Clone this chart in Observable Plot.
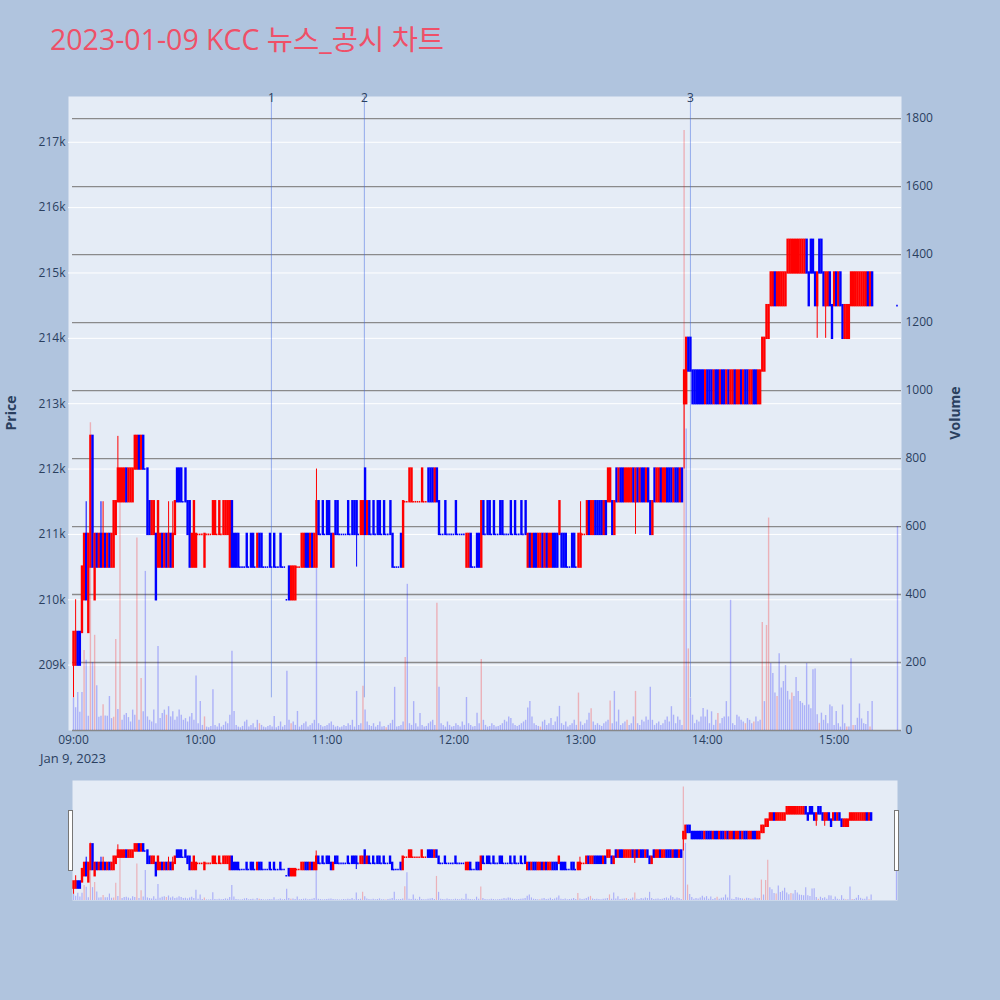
<!DOCTYPE html>
<html>
<head>
<meta charset="utf-8">
<script src="https://cdn.jsdelivr.net/npm/d3@7"></script>
<script src="https://cdn.jsdelivr.net/npm/@observablehq/plot@0.6"></script>
<style>
  body { margin: 0; background: #b0c4de; }
  #chart { position: relative; width: 1000px; height: 1000px; overflow: hidden;
           font-family: "Open Sans", "Noto Sans CJK KR", sans-serif; color: #2a3f5f; }
  #chart svg { position: absolute; left: 0; top: 0; }
  .txt { position: absolute; white-space: nowrap; }
  #title { left: 50px; top: 25px; font-size: 28.5px; line-height: 28px; color: #ef5068; }
  .handle { position: absolute; width: 3px; height: 59px; background: #fff; border: 1px solid #777; }
</style>
</head>
<body>
<div id="chart">
  <div class="txt" id="title">2023-01-09 KCC 뉴스_공시 차트</div>
</div>
<script>
// minute candles, 09:00 = minute 0, prices in thousand won
const open = [
  209, 209, 209.5, 209.5, 209.5, 210, 211, 209.5, 210.5, 212.5,
  210, 211, 210.5, 211, 210.5, 211, 210.5, 211, 210.5, 210.5,
  211, 211.5, 211.5, 211.5, 211.5, 212, 211.5, 211.5, 211.5, 212,
  212, 212.5, 212, 212.5, 212, 212, 211.5, 211, 211, 211,
  210.5, 210.5, 211, 210.5, 211, 210.5, 211, 210.5, 211, 212,
  212, 212, 211.5, 212, 211.5, 211.5, 210.5, 210.5, 210.5, 211,
  211, 211, 210.5, 211, 211, 211, 211, 211, 211, 211,
  211, 211, 211, 211, 210.5, 211.5, 211, 211, 211, 210.5,
  210.5, 210.5, 211, 210.5, 211, 211, 210.5, 210.5, 211, 211,
  210.5, 210.5, 210.5, 211, 210.5, 211, 210.5, 210.5, 211, 210.5,
  210.5, 210, 210.5, 210, 210, 210, 210.5, 210.5, 210.5, 210.5,
  211, 211, 210.5, 211, 210.5, 210.5, 211.5, 211, 211.5, 211,
  211.5, 211.5, 211, 210.5, 211.5, 211.5, 211, 211, 211, 211,
  211.5, 211, 211.5, 211.5, 211.5, 211, 211, 211, 212, 211,
  211.5, 211, 211.5, 211, 211.5, 211.5, 211, 211.5, 211, 211,
  211.5, 211, 210.5, 210.5, 210.5, 211, 210.5, 211.5, 211.5, 211.5,
  211.5, 211.5, 211.5, 211.5, 211.5, 211.5, 211.5, 211.5, 212, 212,
  212, 211.5, 212, 211.5, 211, 211, 211.5, 211, 211, 211,
  211, 211.5, 211, 211, 211, 211, 210.5, 210.5, 211, 210.5,
  210.5, 211, 211, 210.5, 211.5, 211, 211.5, 211.5, 211, 211.5,
  211, 211, 211.5, 211.5, 211, 211, 211, 211.5, 211, 211.5,
  211, 211, 211.5, 211, 211.5, 210.5, 211, 210.5, 211, 211,
  210.5, 210.5, 211, 210.5, 211, 210.5, 210.5, 211, 211, 211,
  211, 211, 211, 211, 210.5, 210.5, 211, 211, 210.5, 210.5,
  210.5, 211, 211, 211, 211.5, 211, 211, 211.5, 211.5, 211.5,
  211.5, 211, 211.5, 211.5, 211.5, 211.5, 211, 212, 211.5, 212,
  212, 211.5, 211.5, 211.5, 211.5, 212, 211.5, 212, 211.5, 212,
  212, 211.5, 212, 211.5, 211, 212, 211.5, 211.5, 212, 211.5,
  211.5, 212, 212, 212, 211.5, 212, 212, 211.5, 212, 213,
  213, 214, 214, 213.5, 213.5, 213.5, 213.5, 213.5, 213.5, 213,
  213.5, 213.5, 213.5, 213, 213.5, 213.5, 213, 213.5, 213.5, 213,
  213.5, 213, 213, 213.5, 213, 213, 213.5, 213, 213.5, 213.5,
  213, 213, 213.5, 213.5, 213, 213, 213.5, 213.5, 214, 214,
  214.5, 214.5, 215, 214.5, 214.5, 214.5, 214.5, 214.5, 215, 215,
  215, 215, 215, 215, 215, 215, 215, 215.5, 215, 215.5,
  215.5, 215, 214.5, 215.5, 215.5, 215, 214.5, 214.5, 215, 214.5,
  214.5, 215, 214.5, 215, 214.5, 214, 214, 214, 214.5, 214.5,
  214.5, 214.5, 214.5, 214.5, 214.5, 214.5, 215, 214.5, 215
];
const close = [
  209.5, 209.5, 209, 209, 210.5, 211, 210, 211, 212.5, 210.5,
  211, 210.5, 211, 210.5, 211, 210.5, 211, 210.5, 211, 211.5,
  211.5, 212, 212, 212, 212, 211.5, 212, 212, 212, 212.5,
  212.5, 212, 212.5, 212, 212, 211, 211, 211.5, 211.5, 210,
  211.5, 211, 210.5, 211, 210.5, 211, 210.5, 211, 211.5, 211.5,
  211.5, 211.5, 211.5, 211.5, 211, 210.5, 211, 211.5, 211, 211,
  211, 211, 211, 211, 211, 211, 211.5, 211.5, 211, 211.5,
  211, 211.5, 211.5, 211.5, 211.5, 210.5, 210.5, 210.5, 210.5, 210.5,
  210.5, 210.5, 210.5, 210.5, 210.5, 210.5, 210.5, 211, 210.5, 210.5,
  210.5, 210.5, 210.5, 210.5, 210.5, 210.5, 210.5, 210.5, 210.5, 210.5,
  210.5, 210, 210, 210.5, 210.5, 210.5, 210.5, 210.5, 211, 211,
  210.5, 210.5, 211, 210.5, 211, 211.5, 211, 211, 211, 211,
  211, 211, 210.5, 211, 211, 211, 211, 211, 211, 211,
  211, 211, 211, 211, 211, 211, 211.5, 211.5, 211, 211.5,
  211, 211, 211, 211, 211, 211, 211, 211, 211, 211,
  211, 210.5, 210.5, 210.5, 210.5, 210.5, 211.5, 211.5, 211.5, 212,
  212, 211.5, 211.5, 211.5, 211.5, 212, 211.5, 211.5, 211.5, 211.5,
  211.5, 212, 211.5, 211, 211, 211, 211, 211, 211, 211,
  211, 211, 211, 211, 211, 211, 211, 211, 210.5, 210.5,
  210.5, 210.5, 210.5, 211.5, 211, 211, 211, 211, 211, 211,
  211, 211, 211, 211, 211, 211, 211, 211, 211, 211,
  211, 211, 211, 211, 211, 211, 210.5, 211, 210.5, 210.5,
  211, 211, 210.5, 211, 210.5, 211, 211, 210.5, 210.5, 210.5,
  211.5, 210.5, 210.5, 210.5, 210.5, 210.5, 210.5, 210.5, 210.5, 211,
  211, 211, 211, 211.5, 211, 211.5, 211.5, 211, 211, 211,
  211, 211.5, 211, 212, 212, 211, 211.5, 211.5, 212, 211.5,
  211.5, 212, 212, 212, 212, 211.5, 212, 211.5, 212, 211.5,
  211.5, 212, 211.5, 211, 211.5, 211.5, 212, 212, 211.5, 212,
  212, 211.5, 211.5, 211.5, 212, 211.5, 211.5, 212, 211.5, 213.5,
  214, 213.5, 213.5, 213, 213, 213, 213, 213, 213, 213.5,
  213, 213, 213, 213.5, 213, 213, 213.5, 213, 213, 213.5,
  213, 213.5, 213.5, 213, 213.5, 213.5, 213, 213.5, 213, 213,
  213.5, 213.5, 213, 213, 213.5, 213.5, 214, 214, 214.5, 214.5,
  215, 215, 214.5, 215, 215, 215, 215, 215, 215.5, 215.5,
  215.5, 215.5, 215.5, 215.5, 215.5, 215.5, 215.5, 215, 214.5, 215,
  215, 214.5, 215, 215, 215, 214.5, 215, 215, 214.5, 214,
  215, 214.5, 215, 214.5, 214, 214.5, 214.5, 214.5, 215, 215,
  215, 215, 215, 215, 215, 215, 214.5, 215, 214.5
];
// shadows that reach past the body: [minute, price]
const wickHigh = [[1, 210], [6, 211.5], [13, 211.5], [14, 211.5], [21, 212.5], [45, 211.5], [47, 211.5], [115, 212], [240, 211.5]];
const wickLow = [[0, 208.5], [134, 210.5], [266, 211], [289, 212], [352, 214], [356, 214]];
const volume = [
  95, 67, 112, 54, 112, 235, 207, 42, 905, 200,
  280, 132, 39, 42, 76, 43, 42, 100, 35, 39,
  268, 62, 713, 30, 45, 50, 38, 25, 60, 45,
  566, 30, 153, 55, 468, 40, 30, 25, 60, 20,
  247, 35, 50, 60, 45, 70, 40, 55, 30, 40,
  60, 45, 30, 35, 25, 40, 50, 30, 160, 20,
  85, 15, 40, 10, 8, 12, 120, 15, 10, 20,
  10, 15, 25, 20, 45, 233, 56, 15, 10, 8,
  12, 25, 30, 10, 15, 20, 8, 30, 20, 15,
  10, 8, 12, 15, 10, 41, 8, 12, 25, 10,
  15, 174, 30, 20, 25, 15, 56, 10, 15, 20,
  25, 10, 15, 20, 30, 478, 20, 15, 10, 12,
  15, 20, 25, 15, 10, 12, 8, 10, 15, 12,
  20, 15, 30, 10, 115, 15, 20, 130, 60, 25,
  15, 12, 20, 10, 15, 25, 10, 12, 8, 15,
  20, 30, 127, 10, 12, 15, 25, 215, 430, 20,
  15, 85, 20, 10, 50, 15, 10, 12, 20, 25,
  30, 15, 374, 127, 20, 15, 10, 25, 15, 10,
  12, 20, 15, 10, 25, 15, 97, 20, 15, 10,
  12, 51, 20, 209, 30, 15, 10, 12, 20, 15,
  10, 12, 15, 20, 30, 25, 40, 35, 20, 15,
  12, 15, 20, 25, 30, 66, 85, 40, 20, 15,
  12, 10, 25, 30, 15, 20, 35, 15, 25, 40,
  71, 20, 15, 25, 10, 15, 20, 30, 15, 110,
  25, 15, 20, 30, 51, 64, 25, 15, 20, 15,
  12, 20, 25, 30, 87, 20, 115, 25, 60, 15,
  20, 25, 30, 15, 20, 40, 115, 20, 15, 30,
  25, 40, 30, 127, 30, 15, 20, 25, 15, 20,
  30, 40, 25, 70, 45, 20, 40, 30, 15, 1765,
  887, 240, 95, 45, 20, 30, 25, 40, 65, 40,
  60, 20, 55, 15, 30, 50, 20, 35, 40, 85,
  40, 383, 20, 15, 45, 40, 30, 25, 20, 35,
  30, 20, 25, 40, 26, 30, 318, 85, 309, 625,
  197, 168, 110, 100, 226, 125, 144, 191, 115, 90,
  110, 100, 156, 115, 85, 80, 73, 197, 75, 64,
  179, 181, 46, 21, 51, 30, 44, 20, 75, 70,
  15, 56, 20, 10, 75, 20, 10, 10, 211, 15,
  15, 36, 78, 34, 20, 18, 56, 10, 85
];
// minutes whose volume bar is drawn red
const redVolume = [5, 8, 10, 14, 19, 20, 22, 30, 32, 44, 62, 88, 103, 137, 148, 157, 172, 193, 221, 239, 245, 254, 262, 266, 289, 291, 305, 318, 322, 326, 328, 329, 333, 340, 353, 366, 369, 377];
// 15:30 closing auction
const auction = { minute: 390, price: 214.5, volume: 600 };

const news = [
  { label: "1", time: "10:33:40" },
  { label: "2", time: "11:17:40" },
  { label: "3", time: "13:52:00" }
];
const hourTicks = ["09:00", "10:00", "11:00", "12:00", "13:00", "14:00", "15:00"];
const priceTicks = [209000, 210000, 211000, 212000, 213000, 214000, 215000, 216000, 217000];
const volumeTicks = [0, 200, 400, 600, 800, 1000, 1200, 1400, 1600, 1800];

const UP = "#ff0000", DOWN = "#0000ff";
const day = "2023-01-09";
const base = Date.UTC(2023, 0, 9, 9, 0);
const at = (m) => new Date(base + m * 60000);
const parseTime = (s) => new Date(`${day}T${s}Z`);

const highMap = new Map(wickHigh), lowMap = new Map(wickLow);
let lastDir = UP;
const candles = open.map((o, i) => {
  const c = close[i];
  const dir = c > o ? UP : c < o ? DOWN : lastDir;
  lastDir = dir;
  return {
    t: at(i), o: o * 1000, c: c * 1000,
    h: (highMap.get(i) ?? Math.max(o, c)) * 1000,
    l: (lowMap.get(i) ?? Math.min(o, c)) * 1000,
    col: dir, v: volume[i], vcol: redVolume.includes(i) ? UP : DOWN
  };
});
candles.push({
  t: at(auction.minute), o: auction.price * 1000, c: auction.price * 1000,
  h: auction.price * 1000, l: auction.price * 1000, col: DOWN,
  v: auction.volume, vcol: DOWN
});
const bodies = candles.filter((d) => d.o !== d.c);
const dojis = candles.filter((d) => d.o === d.c);
const wicks = candles.filter((d) => d.h > Math.max(d.o, d.c) || d.l < Math.min(d.o, d.c));
const newsData = news.map((d) => ({ label: d.label, t: parseTime(d.time) }));

const priceDomain = [208000, 217700];
const volumeDomain = [0, 1865];
const mainX = [at(-2.37), at(391.9)];
const sliderX = [at(-0.5), at(390.5)];
const font = '"Open Sans", "Noto Sans CJK KR", sans-serif';
const chartDiv = document.getElementById("chart");

function layer(opts) {
  const svg = Plot.plot({
    width: 1000,
    style: { background: "transparent", fontFamily: font, fontSize: "12px", color: "#2a3f5f", overflow: "visible" },
    color: { type: "identity" },
    ...opts
  });
  chartDiv.append(svg);
}

const mainBox = { height: 780, marginTop: 96, marginBottom: 50, marginLeft: 68, marginRight: 99 };
const sliderBox = { height: 1000, marginTop: 780, marginBottom: 100, marginLeft: 72, marginRight: 103 };

function candleMarks(bodyWidth) {
  return [
    Plot.ruleX(wicks, { x: "t", y1: "l", y2: "h", stroke: "col", strokeWidth: 1 }),
    Plot.ruleX(bodies, { x: "t", y1: "o", y2: "c", stroke: "col", strokeWidth: bodyWidth, strokeLinecap: "square" }),
    Plot.ruleY(dojis, {
      y: "c",
      x1: (d) => new Date(+d.t - 22000),
      x2: (d) => new Date(+d.t + 22000),
      stroke: "col", strokeWidth: 1.6
    })
  ];
}

// main: background, price grid, axes
layer({
  ...mainBox,
  x: { type: "utc", domain: mainX, ticks: hourTicks.map((s) => parseTime(s + ":00")),
       tickFormat: d3.utcFormat("%H:%M"), tickSize: 0, tickPadding: 5, label: null },
  y: { domain: priceDomain, ticks: priceTicks, tickFormat: (d) => d / 1000 + "k",
       tickSize: 0, tickPadding: 3, label: null },
  marks: [
    Plot.frame({ fill: "#e5ecf6", stroke: null }),
    Plot.gridY(priceTicks, { stroke: "#ffffff", strokeOpacity: 1, strokeWidth: 1 })
  ]
});

// main: volume on its own right-hand axis
layer({
  ...mainBox,
  x: { type: "utc", domain: mainX, axis: null },
  y: { domain: volumeDomain, axis: "right", ticks: volumeTicks, tickFormat: (d) => String(d),
       tickSize: 0, tickPadding: 4, label: null },
  marks: [
    Plot.ruleY(volumeTicks, { stroke: "#808080", strokeOpacity: 0.9, strokeWidth: 1.3, insetLeft: 4 }),
    Plot.ruleX(candles, { x: "t", y1: 0, y2: "v", stroke: "vcol", strokeOpacity: 0.25, strokeWidth: 1.4 })
  ]
});

// main: candles and news markers
layer({
  ...mainBox,
  x: { type: "utc", domain: mainX, axis: null },
  y: { domain: priceDomain, axis: null },
  marks: [
    Plot.ruleX(newsData, { x: "t", y1: 208500, y2: priceDomain[1], stroke: "royalblue", strokeOpacity: 0.5, strokeWidth: 1 }),
    ...candleMarks(2.4),
    Plot.text(newsData, { x: "t", y: priceDomain[1], text: "label", dy: 2, fill: "#2a3f5f", fontSize: 12 })
  ]
});

// range slider: volume
layer({
  ...sliderBox,
  x: { type: "utc", domain: sliderX, axis: null },
  y: { domain: volumeDomain, axis: null },
  marks: [
    Plot.frame({ fill: "#e5ecf6", stroke: null }),
    Plot.ruleX(candles, { x: "t", y1: 0, y2: "v", stroke: "vcol", strokeOpacity: 0.25, strokeWidth: 1.2 })
  ]
});

// range slider: candles
layer({
  ...sliderBox,
  x: { type: "utc", domain: sliderX, axis: null },
  y: { domain: priceDomain, axis: null },
  marks: candleMarks(2.4)
});

function addText(text, css) {
  const el = document.createElement("div");
  el.className = "txt";
  el.textContent = text;
  Object.assign(el.style, css);
  chartDiv.append(el);
  return el;
}
addText("Jan 9, 2023", { left: "73px", top: "749px", fontSize: "13px", transform: "translateX(-50%)" });
addText("Price", { left: "10px", top: "413px", fontSize: "14px", fontWeight: "bold",
  transform: "translate(-50%, -50%) rotate(-90deg)" });
addText("Volume", { left: "954px", top: "413px", fontSize: "14px", fontWeight: "bold",
  transform: "translate(-50%, -50%) rotate(-90deg)" });

for (const left of [68, 894]) {
  const h = document.createElement("div");
  h.className = "handle";
  h.style.left = left + "px";
  h.style.top = "810px";
  chartDiv.append(h);
}
</script>
</body>
</html>
